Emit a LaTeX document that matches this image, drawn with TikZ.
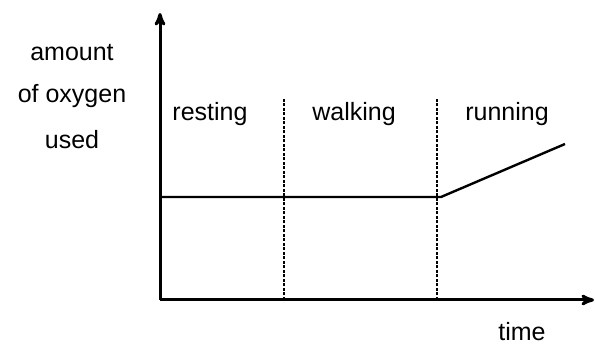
\documentclass[tikz,border=0pt]{standalone}
\usepackage{fontspec}
\setmainfont{Liberation Sans}
\usetikzlibrary{arrows}

\begin{document}
\begin{tikzpicture}[x=1pt,y=1pt,>=stealth',
  axis line/.style={line width=3pt,->},
  phase line/.style={line width=2.6pt,dash pattern=on 3pt off 1.5pt},
  level line/.style={line width=2.4pt},
  label node/.style={font=\fontsize{25}{30}\selectfont,inner sep=0pt,align=center}]
  \useasboundingbox (0,0) rectangle (595,347);

  \coordinate (origin) at (160,47);
  \coordinate (ytop) at (160,334);
  \coordinate (xend) at (594,47);
  \coordinate (p1top) at (284,249);
  \coordinate (p1bot) at (284,47);
  \coordinate (p2top) at (437,249);
  \coordinate (p2bot) at (437,47);
  \coordinate (start) at (160,150);
  \coordinate (knee) at (441,150);
  \coordinate (finish) at (565,203);

  \node[label node] (amount) at (72,294) {amount};
  \node[label node] (oxygen) at (72,251) {of oxygen};
  \node[label node] (used) at (72,207) {used};
  \node[label node] (resting) at (210,233) {resting};
  \node[label node] (walking) at (354,233) {walking};
  \node[label node] (running) at (507,233) {running};
  \node[label node] (time) at (522,15) {time};

  \draw[axis line] (origin) -- (ytop);
  \draw[axis line] (origin) -- (xend);
  \draw[phase line] (p1bot) -- (p1top);
  \draw[phase line] (p2bot) -- (p2top);
  \draw[level line] (start) -- (knee) -- (finish);
\end{tikzpicture}
\end{document}
